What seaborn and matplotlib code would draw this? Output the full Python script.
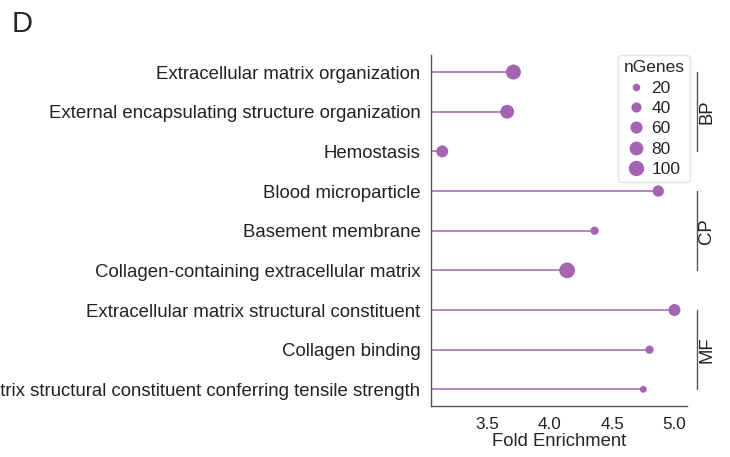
import numpy as np
import pandas as pd
import matplotlib
matplotlib.use('Agg')
import matplotlib.pyplot as plt
import matplotlib.transforms as mtransforms
from matplotlib.lines import Line2D
import seaborn as sns

# Dados
termos = [
    'Extracellular matrix organization',
    'External encapsulating structure organization',
    'Hemostasis',
    'Blood microparticle',
    'Basement membrane',
    'Collagen-containing extracellular matrix',
    'Extracellular matrix structural constituent',
    'Collagen binding',
    'Extracellular matrix structural constituent conferring tensile strength',
]
fold_enrichment = [3.71, 3.66, 3.14, 4.87, 4.36, 4.14, 5.00, 4.80, 4.75]
n_genes = [95, 80, 58, 52, 25, 105, 58, 25, 15]
grupos = ['BP', 'BP', 'BP', 'CP', 'CP', 'CP', 'MF', 'MF', 'MF']
legenda_ngenes = [20, 40, 60, 80, 100]

df = pd.DataFrame({'termo': termos, 'fe': fold_enrichment,
                   'nGenes': n_genes, 'grupo': grupos})

sns.set_style("ticks")
plt.rcParams['font.family'] = ['Liberation Sans', 'DejaVu Sans']

cor = '#a463b3'
tam_min, tam_max = 24, 128
norma = (15, 105)

fig = plt.figure(figsize=(7.3, 4.57), dpi=100)
ax = fig.add_axes([0.5904, 0.1116, 0.3507, 0.768])

# Hastes do lollipop
ax.hlines(y=df['termo'], xmin=3.05, xmax=df['fe'], color=cor, linewidth=1.1, zorder=1)

# Pontos
sns.scatterplot(data=df, x='fe', y='termo', size='nGenes', sizes=(tam_min, tam_max),
                size_norm=norma, color=cor, edgecolor='none', alpha=1,
                legend=False, ax=ax, zorder=2)

ax.set_xlim(3.05, 5.10)
ax.set_ylim(8.42, -0.43)
ax.set_xticks([3.5, 4.0, 4.5, 5.0])
ax.set_xlabel('Fold Enrichment', fontsize=13.3, labelpad=1)
ax.set_ylabel('')
ax.tick_params(axis='y', length=0, pad=7.5, labelsize=13.45, colors='#222222')
ax.tick_params(axis='x', length=0, pad=8, labelsize=12.3, colors='#222222')
for s in ['left', 'bottom']:
    ax.spines[s].set_color('#555555')
    ax.spines[s].set_linewidth(1.0)
sns.despine(ax=ax)

# Legenda com os mesmos tamanhos da escala
handles = []
for n in legenda_ngenes:
    s = tam_min + (n - norma[0]) / (norma[1] - norma[0]) * (tam_max - tam_min)
    handles.append(Line2D([], [], marker='o', linestyle='', color=cor,
                          markeredgecolor='none', markersize=np.sqrt(s)))
leg = ax.legend(handles, [str(n) for n in legenda_ngenes], title='nGenes',
                loc='upper right', bbox_to_anchor=(1.01, 1.0),
                fontsize=12.5, title_fontsize=12.5, frameon=True, handletextpad=0.4,
                labelspacing=0.3, borderpad=0.3, handlelength=1.0, borderaxespad=0)
leg.get_frame().set_edgecolor('#dddddd')

# Colchetes dos grupos
trans = mtransforms.blended_transform_factory(ax.transAxes, ax.transData)
for g in ['BP', 'CP', 'MF']:
    idx = df.index[df['grupo'] == g]
    y0, y1 = idx.min(), idx.max()
    ax.plot([1.039, 1.039], [y0, y1], transform=trans, color='#555555',
            linewidth=1.0, clip_on=False)
    ax.text(1.078, (y0 + y1) / 2, g, transform=trans, rotation=90,
            ha='center', va='center', fontsize=13.3, color='#222222')

fig.text(0.016, 0.930, 'D', fontsize=21, va='baseline', ha='left')

plt.savefig('out.png', dpi=100)
